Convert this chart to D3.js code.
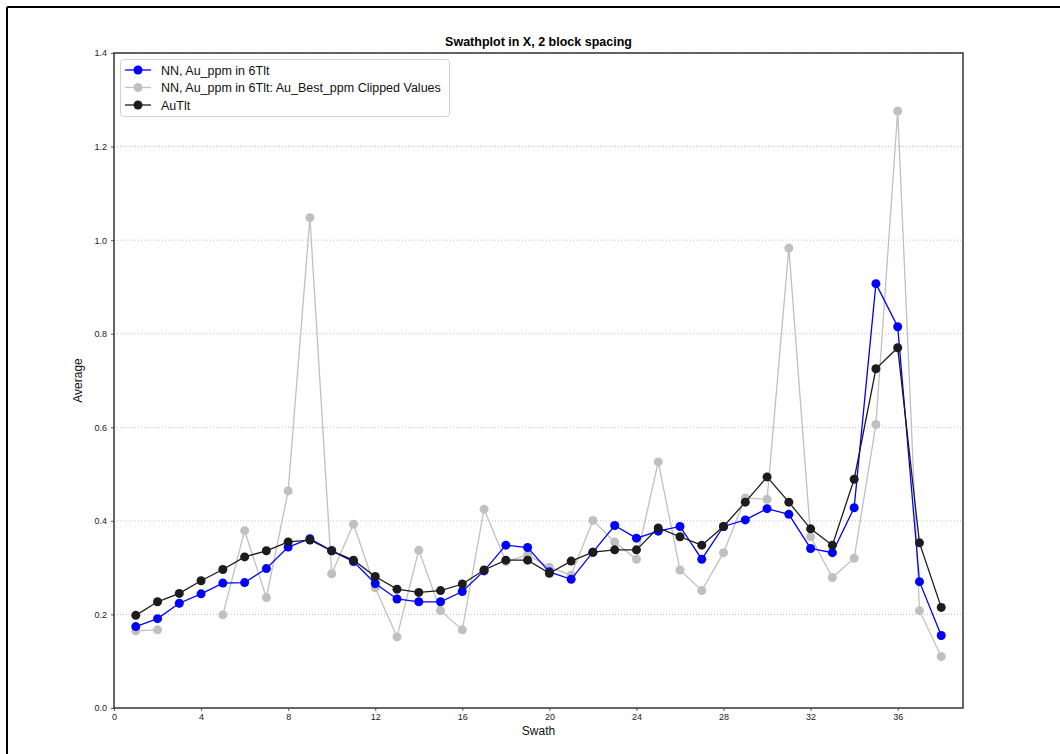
<!DOCTYPE html>
<html>
<head>
<meta charset="utf-8">
<script src="https://cdn.jsdelivr.net/npm/d3@7"></script>
<style>
  html, body { margin: 0; padding: 0; background: #fff; }
  svg { display: block; font-family: "Liberation Sans", Arial, sans-serif; }
</style>
</head>
<body>
<svg id="chart" width="1060" height="754"></svg>
<script>
// Swath numbers along X
const swaths = d3.range(1, 39);

// Average grade per swath for each estimate
const nnAu = [0.174, 0.191, 0.224, 0.244, 0.267, 0.268, 0.298, 0.344, 0.362, 0.336,
              0.313, 0.266, 0.233, 0.227, 0.227, 0.249, 0.293, 0.348, 0.343, 0.291,
              0.275, 0.333, 0.390, 0.363, 0.378, 0.388, 0.318, 0.388, 0.402, 0.426,
              0.414, 0.341, 0.332, 0.428, 0.907, 0.815, 0.270, 0.155];

const nnClipped = [0.165, 0.167, null, null, 0.199, 0.379, 0.236, 0.464, 1.048, 0.287,
                   0.393, 0.257, 0.152, 0.337, 0.208, 0.167, 0.425, 0.313, 0.327, 0.301,
                   0.284, 0.401, 0.355, 0.318, 0.526, 0.295, 0.251, 0.332, 0.449, 0.446,
                   0.983, 0.366, 0.279, 0.320, 0.606, 1.276, 0.208, 0.110];

const auTlt = [0.198, 0.227, 0.245, 0.272, 0.296, 0.323, 0.336, 0.355, 0.359, 0.336,
               0.316, 0.281, 0.254, 0.247, 0.251, 0.265, 0.295, 0.316, 0.316, 0.288,
               0.314, 0.333, 0.338, 0.338, 0.385, 0.366, 0.348, 0.388, 0.440, 0.494,
               0.440, 0.383, 0.348, 0.489, 0.725, 0.770, 0.353, 0.215];

const xTicks = [0, 4, 8, 12, 16, 20, 24, 28, 32, 36];
const yTicks = [0.0, 0.2, 0.4, 0.6, 0.8, 1.0, 1.2, 1.4];

const series = [
  { name: "NN, Au_ppm in 6Tlt", values: nnAu, color: "#0000ff" },
  { name: "NN, Au_ppm in 6Tlt: Au_Best_ppm Clipped Values", values: nnClipped, color: "#c0c0c0" },
  { name: "AuTlt", values: auTlt, color: "#1c1c1c" }
];
// drawing order: clipped values underneath, then NN, then AuTlt on top
const drawOrder = [1, 0, 2];

const svg = d3.select("#chart");

// outer frame
svg.append("line").attr("x1", 7).attr("y1", 7).attr("x2", 1060).attr("y2", 7)
  .attr("stroke", "#000").attr("stroke-width", 2);
svg.append("line").attr("x1", 7).attr("y1", 7).attr("x2", 7).attr("y2", 754)
  .attr("stroke", "#000").attr("stroke-width", 2);

const plot = { left: 114, right: 963, top: 53, bottom: 708 };

const x = d3.scaleLinear().domain([0, 39]).range([plot.left, plot.right]);
const y = d3.scaleLinear().domain([0, 1.4]).range([plot.bottom, plot.top]);

// horizontal dotted grid
svg.append("g")
  .selectAll("line")
  .data(yTicks.filter(d => d > 0))
  .join("line")
  .attr("x1", plot.left).attr("x2", plot.right)
  .attr("y1", d => y(d)).attr("y2", d => y(d))
  .attr("stroke", "#b0b0b0")
  .attr("stroke-width", 0.8)
  .attr("stroke-dasharray", "1,2");

// axes
const yAxis = svg.append("g")
  .attr("transform", `translate(${plot.left},0)`)
  .call(d3.axisLeft(y).tickValues(yTicks).tickFormat(d3.format(".1f")).tickSize(3).tickPadding(4));
const xAxis = svg.append("g")
  .attr("transform", `translate(0,${plot.bottom})`)
  .call(d3.axisBottom(x).tickValues(xTicks).tickFormat(d3.format("d")).tickSize(3).tickPadding(3));

[yAxis, xAxis].forEach(g => {
  g.select(".domain").remove();
  g.selectAll(".tick line").attr("stroke", "#333").attr("stroke-width", 0.8);
  g.selectAll(".tick text").attr("fill", "#222").style("font-size", "9px")
    .style("font-family", "'Liberation Sans', Arial, sans-serif");
});

// lines and markers
const line = d3.line()
  .defined(d => d.v !== null)
  .x(d => x(d.s))
  .y(d => y(d.v));

drawOrder.forEach(i => {
  const s = series[i];
  const pts = swaths.map((sw, k) => ({ s: sw, v: s.values[k] }));
  const g = svg.append("g");
  g.append("path")
    .datum(pts)
    .attr("d", line)
    .attr("fill", "none")
    .attr("stroke", s.color)
    .attr("stroke-width", 1.3);
  g.selectAll("circle")
    .data(pts.filter(d => d.v !== null))
    .join("circle")
    .attr("cx", d => x(d.s))
    .attr("cy", d => y(d.v))
    .attr("r", 4.5)
    .attr("fill", s.color);
});

// axes frame
svg.append("rect")
  .attr("x", plot.left).attr("y", plot.top)
  .attr("width", plot.right - plot.left).attr("height", plot.bottom - plot.top)
  .attr("fill", "none")
  .attr("stroke", "#333")
  .attr("stroke-width", 1.5);

// title and axis labels
svg.append("text")
  .attr("x", (plot.left + plot.right) / 2).attr("y", 46)
  .attr("text-anchor", "middle")
  .style("font-size", "12.5px").style("font-weight", "bold")
  .attr("fill", "#000")
  .text("Swathplot in X, 2 block spacing");

svg.append("text")
  .attr("x", (plot.left + plot.right) / 2).attr("y", 735)
  .attr("text-anchor", "middle")
  .style("font-size", "12px")
  .attr("fill", "#111")
  .text("Swath");

svg.append("text")
  .attr("transform", `translate(82,${(plot.top + plot.bottom) / 2}) rotate(-90)`)
  .attr("text-anchor", "middle")
  .style("font-size", "12px")
  .attr("fill", "#111")
  .text("Average");

// legend
const legend = svg.append("g");
legend.append("rect")
  .attr("x", 120.5).attr("y", 59.5)
  .attr("width", 329).attr("height", 57)
  .attr("rx", 3)
  .attr("fill", "#fff")
  .attr("fill-opacity", 0.85)
  .attr("stroke", "#d0d0d0")
  .attr("stroke-width", 1);

series.forEach((s, i) => {
  const cy = 70 + i * 17.5;
  legend.append("line")
    .attr("x1", 125).attr("x2", 151)
    .attr("y1", cy).attr("y2", cy)
    .attr("stroke", s.color).attr("stroke-width", 1.3);
  legend.append("circle")
    .attr("cx", 138).attr("cy", cy).attr("r", 4.5)
    .attr("fill", s.color);
  legend.append("text")
    .attr("x", 161).attr("y", cy + 4.5)
    .style("font-size", "12.5px")
    .attr("fill", "#111")
    .text(s.name);
});
</script>
</body>
</html>
